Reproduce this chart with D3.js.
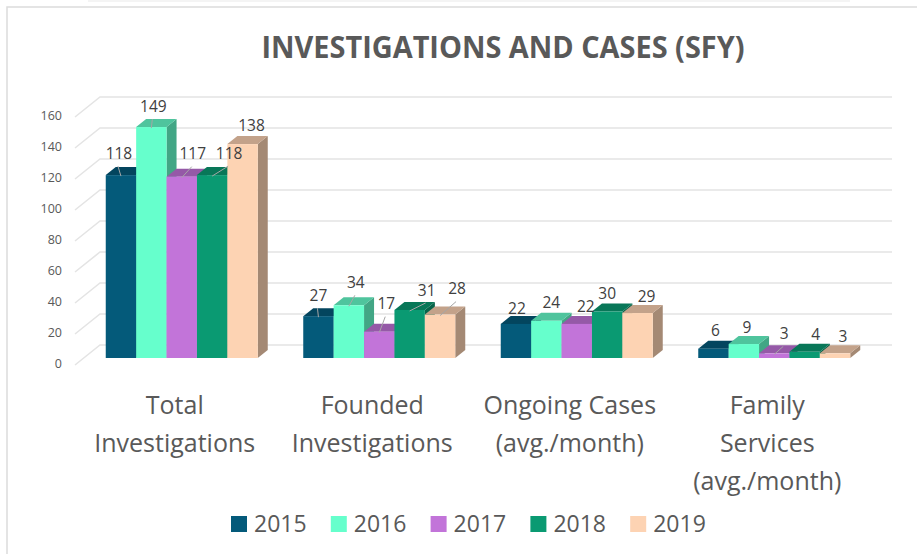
<!DOCTYPE html>
<html>
<head>
<meta charset="utf-8">
<script src="https://cdn.jsdelivr.net/npm/d3@7"></script>
<style>
  html, body { margin: 0; padding: 0; background: #fff; overflow: hidden; }
  text { font-family: "Open Sans", sans-serif; fill: #595959; }
</style>
</head>
<body>
<div id="chart"></div>
<script>
// data
const categories = ["Total\nInvestigations", "Founded\nInvestigations", "Ongoing Cases\n(avg./month)", "Family\nServices\n(avg./month)"];
const years = ["2015", "2016", "2017", "2018", "2019"];
const values2015 = [118, 27, 22, 6];
const values2016 = [149, 34, 24, 9];
const values2017 = [117, 17, 22, 3];
const values2018 = [118, 31, 30, 4];
const values2019 = [138, 28, 29, 3];
const yTicks = [0, 20, 40, 60, 80, 100, 120, 140, 160];
const seriesValues = [values2015, values2016, values2017, values2018, values2019];
const colors = ["#045a7a", "#66ffcc", "#c274d9", "#0a9a72", "#fdd3b3"];

// label nudges from the top of each bar, [dx, dy, has leader line], one row per category
const labelNudge = [
  [[-7, -18, 1], [-3, -17, 1], [6, -19, 1], [12, -18, 1], [4, -15, 0]],
  [[-5, -17, 1], [2, -19, 1], [2, -24, 1], [12, -16, 1], [12, -22, 1]],
  [[-4, -11, 0], [0, -14, 0], [4, -13, 0], [-5, -14, 0], [4, -13, 0]],
  [[-3, -14, 0], [-2, -13, 0], [5, -16, 1], [6, -13, 0], [3, -13, 0]]
];

const width = 917;
const height = 554;
const depthX = 10, depthY = 8;     // bar depth
const wallX = 25, wallY = 20;      // side wall offset

const svg = d3.select("#chart").append("svg")
  .attr("width", width)
  .attr("height", height);

// frame, the strip above is the edge of the next page element
svg.append("rect")
  .attr("x", 88).attr("y", -4).attr("width", 762).attr("height", 6)
  .attr("fill", "#f4f4f4");
svg.append("path")
  .attr("d", `M7,${height} V7 H${width}`)
  .attr("fill", "none")
  .attr("stroke", "#dcdcdc")
  .attr("stroke-width", 1.5);

// title
svg.append("text")
  .attr("x", 503)
  .attr("y", 58)
  .attr("text-anchor", "middle")
  .attr("font-size", 31)
  .attr("font-weight", 700)
  .attr("textLength", 483)
  .attr("lengthAdjust", "spacingAndGlyphs")
  .text("INVESTIGATIONS AND CASES (SFY)");

// scales
const x0 = d3.scaleBand().domain(categories).range([83, 873]);
const x1 = d3.scaleBand().domain(years).range([0, 152]);
const y = d3.scaleLinear().domain([0, 160]).range([358, 110]);

// gridlines: side wall then back wall
svg.append("g").selectAll("path")
  .data(yTicks)
  .enter()
  .append("path")
  .attr("d", d => `M75,${y(d) + 7} L100,${y(d) - 13} H892`)
  .attr("fill", "none")
  .attr("stroke", "#e4e4e4")
  .attr("stroke-width", 1.6);

// y axis
const yAxis = svg.append("g")
  .attr("transform", "translate(62,5)")
  .call(d3.axisLeft(y).tickValues(yTicks).tickSize(0).tickPadding(0));
yAxis.select(".domain").remove();
yAxis.selectAll("text")
  .attr("font-size", 12.5)
  .style("font-family", '"Open Sans", sans-serif')
  .attr("fill", "#595959");

// bars, left to right so the next bar covers the side of the previous one
categories.forEach((cat, c) => {
  const g = svg.append("g")
    .attr("transform", `translate(${x0(cat) + (x0.bandwidth() - x1.range()[1]) / 2},0)`);

  years.forEach((yr, s) => {
    const v = seriesValues[s][c];
    const bx = x1(yr), bw = x1.bandwidth(), top = y(v), base = y(0);
    const col = d3.rgb(colors[s]);
    const shade = k => d3.rgb(col.r * k, col.g * k, col.b * k).formatHex();

    g.append("path") // side
      .attr("d", `M${bx + bw},${top} l${depthX},${-depthY} V${base - depthY} L${bx + bw},${base} Z`)
      .attr("fill", shade(0.65));
    g.append("path") // top
      .attr("d", `M${bx},${top} l${depthX},${-depthY} h${bw} l${-depthX},${depthY} Z`)
      .attr("fill", shade(0.77));
    g.append("rect") // front
      .attr("x", bx)
      .attr("y", top)
      .attr("width", bw)
      .attr("height", base - top)
      .attr("fill", colors[s]);
  });
});

// data labels go on top of every bar
categories.forEach((cat, c) => {
  const left = x0(cat) + (x0.bandwidth() - x1.range()[1]) / 2;
  years.forEach((yr, s) => {
    const v = seriesValues[s][c];
    const cx = left + x1(yr) + x1.bandwidth() / 2;
    const [dx, dy, leader] = labelNudge[c][s];
    const lx = cx + depthX / 2 + dx;
    const ly = y(v) - depthY / 2 + dy;

    if (leader) {
      svg.append("line")
        .attr("x1", lx - 1)
        .attr("y1", ly + 13)
        .attr("x2", cx)
        .attr("y2", y(v) + 1)
        .attr("stroke", "#a6a6a6")
        .attr("stroke-width", 1);
    }
    svg.append("text")
      .attr("x", lx)
      .attr("y", ly)
      .attr("dy", "0.36em")
      .attr("text-anchor", "middle")
      .attr("font-size", 15.5)
      .attr("fill", "#404040")
      .style("fill", "#404040")
      .text(v);
  });
});

// category labels
const catText = svg.append("g").selectAll("text")
  .data(categories)
  .enter()
  .append("text")
  .attr("text-anchor", "middle")
  .attr("font-size", 25);
catText.selectAll("tspan")
  .data(d => d.split("\n").map(t => ({ t, cat: d })))
  .enter()
  .append("tspan")
  .attr("x", d => x0(d.cat) + x0.bandwidth() / 2 - 7)
  .attr("y", (d, i) => 414 + i * 38)
  .text(d => d.t);

// legend
const legendX = d3.scaleBand().domain(years).range([231, 730]);
const legend = svg.append("g").selectAll("g")
  .data(years)
  .enter()
  .append("g")
  .attr("transform", d => `translate(${legendX(d)},516)`);
legend.append("rect")
  .attr("width", 16)
  .attr("height", 16)
  .attr("fill", (d, i) => colors[i]);
legend.append("text")
  .attr("x", 23)
  .attr("y", 16)
  .attr("font-size", 23)
  .text(d => d);
</script>
</body>
</html>
